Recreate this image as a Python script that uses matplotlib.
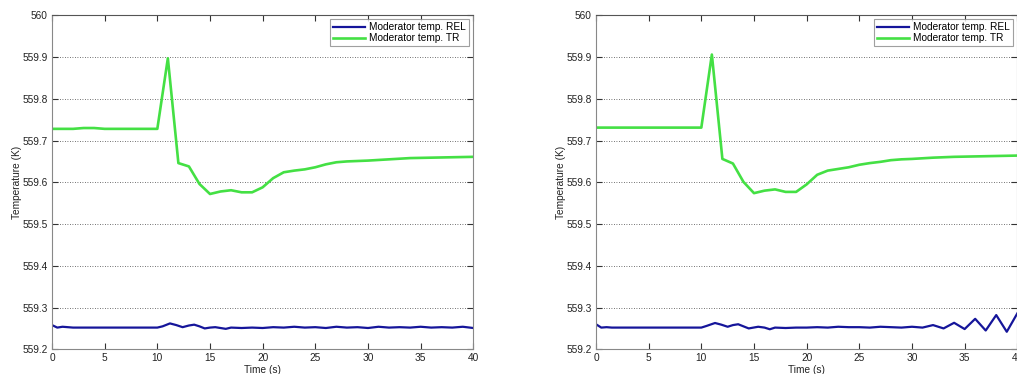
import matplotlib.pyplot as plt
from matplotlib.ticker import MultipleLocator

# moderator temperature, left case
t_tr_a = [0, 2, 3, 4, 5, 8, 10, 11, 12, 13, 14, 15, 16, 17, 18, 19, 20, 21, 22, 23, 24,
          25, 26, 27, 28, 29, 30, 32, 34, 36, 38, 40]
tr_a = [559.728, 559.728, 559.730, 559.730, 559.728, 559.728, 559.728, 559.897, 559.646,
        559.638, 559.596, 559.572, 559.578, 559.581, 559.576, 559.576, 559.588, 559.610,
        559.624, 559.628, 559.631, 559.636, 559.643, 559.648, 559.650, 559.651, 559.652,
        559.655, 559.658, 559.659, 559.660, 559.661]
t_rel_a = [0, 0.5, 1, 1.5, 2, 3, 5, 8, 10, 10.5, 11.2, 11.8, 12.4, 13, 13.5, 14, 14.5, 15,
           15.5, 16, 16.5, 17, 18, 19, 20, 21, 22, 23, 24, 25, 26, 27, 28, 29, 30, 31, 32,
           33, 34, 35, 36, 37, 38, 39, 40]
rel_a = [559.258, 559.252, 559.254, 559.253, 559.252, 559.252, 559.252, 559.252, 559.252,
         559.255, 559.262, 559.258, 559.253, 559.257, 559.259, 559.255, 559.250, 559.252,
         559.253, 559.251, 559.249, 559.252, 559.251, 559.252, 559.251, 559.253, 559.252,
         559.254, 559.252, 559.253, 559.251, 559.254, 559.252, 559.253, 559.251, 559.254,
         559.252, 559.253, 559.252, 559.254, 559.252, 559.253, 559.252, 559.254, 559.251]

# moderator temperature, right case
t_tr_b = [0, 5, 10, 11, 12, 13, 14, 15, 16, 17, 18, 19, 20, 21, 22, 23, 24, 25, 26, 27, 28,
          29, 30, 32, 34, 36, 38, 40]
tr_b = [559.731, 559.731, 559.731, 559.906, 559.656, 559.645, 559.601, 559.574, 559.580,
        559.583, 559.577, 559.577, 559.595, 559.618, 559.628, 559.632, 559.636, 559.642,
        559.646, 559.649, 559.653, 559.655, 559.656, 559.659, 559.661, 559.662, 559.663,
        559.664]
t_rel_b = [0, 0.5, 1, 1.5, 2, 3, 5, 8, 10, 10.5, 11.3, 11.9, 12.5, 13, 13.5, 14, 14.5, 15.4,
           16, 16.5, 17, 18, 19, 20, 21, 22, 23, 24, 25, 26, 27, 28, 29, 30, 31, 32, 33, 34,
           35, 36, 37, 38, 39, 40]
rel_b = [559.260, 559.252, 559.253, 559.252, 559.252, 559.252, 559.252, 559.252, 559.252,
         559.256, 559.263, 559.259, 559.254, 559.258, 559.260, 559.255, 559.250, 559.254,
         559.252, 559.248, 559.252, 559.251, 559.252, 559.252, 559.253, 559.252, 559.254,
         559.253, 559.253, 559.252, 559.254, 559.253, 559.252, 559.254, 559.252, 559.258,
         559.250, 559.2635, 559.2485, 559.273, 559.245, 559.282, 559.242, 559.286]

W, H = 1017, 374
fig = plt.figure(figsize=(W / 100, H / 100), dpi=100)
plt.rcParams['font.family'] = ['Liberation Sans', 'DejaVu Sans']

panels = [(52, t_tr_a, tr_a, t_rel_a, rel_a), (596, t_tr_b, tr_b, t_rel_b, rel_b)]
for x0, ttr, tr, trel, rel in panels:
    ax = fig.add_axes([x0 / W, (H - 349.3) / H, 421.3 / W, 334 / H])
    ax.plot(trel, rel, color='#15159a', lw=1.6, label='Moderator temp. REL')
    ax.plot(ttr, tr, color='#44e044', lw=1.9, label='Moderator temp. TR')
    ax.set_xlim(0, 40)
    ax.set_ylim(559.2, 560)
    ax.xaxis.set_major_locator(MultipleLocator(5))
    ax.yaxis.set_major_locator(MultipleLocator(0.1))
    ax.yaxis.set_major_formatter(plt.FuncFormatter(lambda v, p: f'{v:g}'))
    ax.grid(axis='y', linestyle=(0, (1, 2)), color='#444444', lw=0.6)
    ax.tick_params(direction='in', top=True, right=True, labelsize=7.3, length=4,
                   width=0.8, color='#333333', pad=3, labelcolor='#222222')
    for s in ax.spines.values():
        s.set_color('#888888')
        s.set_linewidth(0.8)
    ax.spines['top'].set_color('#555555')
    ax.set_xlabel('Time (s)', fontsize=7.3, labelpad=1, color='#222222')
    ax.set_ylabel('Temperature (K)', fontsize=7.3, labelpad=0.5, color='#222222')
    leg = ax.legend(loc='upper right', fontsize=7.3, frameon=True, fancybox=False,
                    borderpad=0.3, labelspacing=0.1, handlelength=3.2,
                    handletextpad=0.4, borderaxespad=0.4)
    leg.get_frame().set_edgecolor('#888888')
    leg.get_frame().set_linewidth(0.8)

fig.savefig('out.png', dpi=100)
